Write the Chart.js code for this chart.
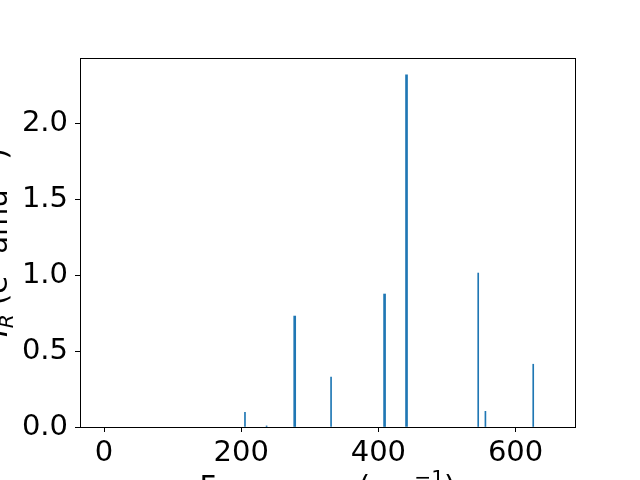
<!DOCTYPE html>
<html>
<head>
<meta charset="utf-8">
<script src="https://cdn.jsdelivr.net/npm/chart.js@4/dist/chart.umd.min.js"></script>
<style>
  html, body { margin: 0; padding: 0; background: #fff; }
  canvas { display: block; }
</style>
</head>
<body>
<canvas id="chart" width="640" height="480"></canvas>
<script>
// IR spectrum: frequencies (cm^-1) and intensities
const FREQS_THICK = [278, 409, 441];
const INTENS_THICK = [0.73, 0.875, 2.318];
const FREQS_THIN = [205.5, 237, 331, 545.5, 556, 625.7];
const INTENS_THIN = [0.097, 0.007, 0.328, 1.013, 0.103, 0.413];
const X_TICKS = [0, 200, 400, 600];
const Y_TICKS = [0.0, 0.5, 1.0, 1.5, 2.0];

const BLUE = "#1f77b4";
const FONT = "DejaVu Sans";
const FS = 29;

function points(xs, ys) {
    let out = [];
    for (var i = 0; i < xs.length; i++) {
        out.push({ x: xs[i], y: ys[i] });
    }
    return out;
}

// draw a run of text pieces (normal / sub / sup) left to right
function drawRich(ctx, pieces, x, y) {
    let cx = x;
    for (const p of pieces) {
        let size = p.small ? FS * 0.7 : FS;
        ctx.font = (p.italic ? "italic " : "") + size + "px '" + FONT + "'";
        ctx.fillText(p.t, cx, y + (p.dy || 0));
        cx += ctx.measureText(p.t).width;
    }
}

function richWidth(ctx, pieces) {
    let w = 0;
    for (const p of pieces) {
        let size = p.small ? FS * 0.7 : FS;
        ctx.font = (p.italic ? "italic " : "") + size + "px '" + FONT + "'";
        w += ctx.measureText(p.t).width;
    }
    return w;
}

const frameAndLabels = {
    id: "frameAndLabels",
    afterDraw(chart) {
        const ctx = chart.ctx;
        const a = chart.chartArea;
        ctx.save();
        ctx.strokeStyle = "#000";
        ctx.lineWidth = 1;
        ctx.strokeRect(Math.round(a.left) + 0.5, Math.round(a.top) + 0.5,
            Math.round(a.right - a.left), Math.round(a.bottom - a.top));

        ctx.fillStyle = "#000";
        ctx.textBaseline = "alphabetic";

        // x axis label
        const xl = [
            { t: "Frequency (cm" },
            { t: "\u22121", small: true, dy: -12 },
            { t: ")" }
        ];
        const xw = richWidth(ctx, xl);
        drawRich(ctx, xl, (a.left + a.right) / 2 - xw / 2, 496);

        // y axis label, rotated
        const yl = [
            { t: "I", italic: true },
            { t: "R", italic: true, small: true, dy: 6 },
            { t: " (e" },
            { t: "2", small: true, dy: -12 },
            { t: " amu" },
            { t: "\u22121", small: true, dy: -12 },
            { t: ")" }
        ];
        const yw = richWidth(ctx, yl);
        ctx.translate(7, (a.top + a.bottom) / 2);
        ctx.rotate(-Math.PI / 2);
        drawRich(ctx, yl, -yw / 2, 0);
        ctx.restore();
    }
};

const config = {
    type: "bar",
    data: {
        datasets: [
            {
                data: points(FREQS_THICK, INTENS_THICK),
                backgroundColor: BLUE,
                borderWidth: 0,
                barThickness: 2,
                grouped: false
            },
            {
                data: points(FREQS_THIN, INTENS_THIN),
                backgroundColor: BLUE,
                borderWidth: 0,
                barThickness: 1,
                grouped: false
            }
        ]
    },
    options: {
        responsive: false,
        animation: false,
        events: [],
        layout: { padding: { left: 0, top: 58, right: 65, bottom: 0 } },
        plugins: {
            legend: { display: false },
            tooltip: { enabled: false }
        },
        scales: {
            x: {
                type: "linear",
                min: -35,
                max: 686.6,
                offset: false,
                afterFit(scale) { scale.height = 53; },
                afterBuildTicks(scale) {
                    scale.ticks = X_TICKS.map(v => ({ value: v }));
                },
                grid: {
                    offset: false,
                    drawOnChartArea: false,
                    drawTicks: true,
                    tickLength: 5,
                    color: "#000"
                },
                border: { display: false },
                ticks: {
                    color: "#000",
                    padding: 4,
                    maxRotation: 0,
                    autoSkip: false,
                    font: { family: FONT, size: FS }
                }
            },
            y: {
                min: 0,
                max: 2.428,
                afterFit(scale) { scale.width = 80; },
                afterBuildTicks(scale) {
                    scale.ticks = Y_TICKS.map(v => ({ value: v }));
                },
                grid: {
                    offset: false,
                    drawOnChartArea: false,
                    drawTicks: true,
                    tickLength: 5,
                    color: "#000"
                },
                border: { display: false },
                ticks: {
                    color: "#000",
                    padding: 7,
                    autoSkip: false,
                    font: { family: FONT, size: FS },
                    callback: v => v.toFixed(1)
                }
            }
        }
    },
    plugins: [frameAndLabels]
};

new Chart(document.getElementById("chart").getContext("2d"), config);
</script>
</body>
</html>
